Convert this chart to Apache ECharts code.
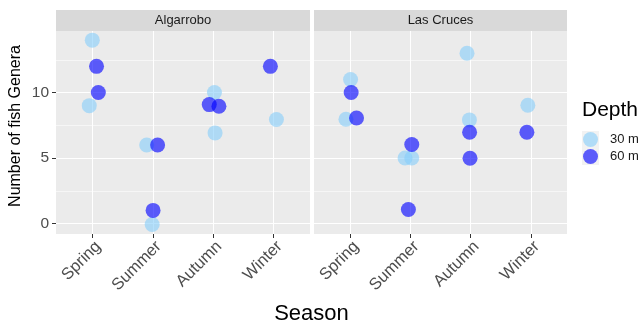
<!DOCTYPE html>
<html>
<head>
<meta charset="utf-8">
<script src="https://cdn.jsdelivr.net/npm/echarts@6/dist/echarts.min.js"></script>
<style>
  html, body { margin: 0; padding: 0; background: #ffffff; }
  #chart { width: 643px; height: 325px; }
</style>
</head>
<body>
<div id="chart"></div>
<script>
// Seasons on the x axis and the two sampling sites (one panel each)
const seasons = ['Spring', 'Summer', 'Autumn', 'Winter'];
const sites = ['Algarrobo', 'Las Cruces'];
const depths = ['30 m', '60 m'];
const yTicks = [0, 5, 10];
const yMinorTicks = [2.5, 7.5, 12.5];

// Each survey: season, number of fish genera, horizontal jitter (fraction of a category)
const algarrobo30Season = ['Spring', 'Spring', 'Summer', 'Summer', 'Autumn', 'Autumn', 'Winter'];
const algarrobo30Genera = [14, 9, 6, -0.08, 10, 6.92, 7.94];
const algarrobo30Jitter = [0, -0.05, -0.1, -0.01, 0.02, 0.03, 0.045];

const algarrobo60Season = ['Spring', 'Spring', 'Summer', 'Summer', 'Autumn', 'Autumn', 'Winter'];
const algarrobo60Genera = [12, 10, 6, 1, 9.08, 8.95, 12];
const algarrobo60Jitter = [0.07, 0.1, 0.08, 0.005, -0.066, 0.094, -0.055];

const lasCruces30Season = ['Spring', 'Spring', 'Summer', 'Summer', 'Autumn', 'Autumn', 'Winter'];
const lasCruces30Genera = [11, 7.96, 5, 5, 13, 7.91, 9.03];
const lasCruces30Jitter = [0.007, -0.07, -0.088, 0.023, -0.06, -0.02, -0.05];

const lasCruces60Season = ['Spring', 'Spring', 'Summer', 'Summer', 'Autumn', 'Autumn', 'Winter'];
const lasCruces60Genera = [10, 8.06, 6.03, 1.07, 6.97, 4.98, 6.97];
const lasCruces60Jitter = [0.017, 0.106, 0.023, -0.033, -0.017, -0.01, -0.066];

const FONT = '"Liberation Sans", Arial, Helvetica, sans-serif';
const LIGHT = 'rgba(135, 206, 250, 0.76)';
const DARK = 'rgba(0, 0, 255, 0.78)';
const PANEL_BG = '#EBEBEB';

function points(seasonArr, generaArr, jitterArr) {
  return seasonArr.map((s, i) => [seasons.indexOf(s) + jitterArr[i], generaArr[i]]);
}

const panelData = [
  { site: sites[0], d30: points(algarrobo30Season, algarrobo30Genera, algarrobo30Jitter),
    d60: points(algarrobo60Season, algarrobo60Genera, algarrobo60Jitter) },
  { site: sites[1], d30: points(lasCruces30Season, lasCruces30Genera, lasCruces30Jitter),
    d60: points(lasCruces60Season, lasCruces60Genera, lasCruces60Jitter) }
];

// Panel geometry (pixels)
const panels = [
  { left: 56, right: 310 },
  { left: 314, right: 567 }
];
const panelTop = 31, panelBottom = 234, stripTop = 10;
const W = 643, H = 325;

const catTicks = seasons.map((_, i) => i);

const grids = panels.map(p => ({
  left: p.left, width: p.right - p.left, top: panelTop, height: panelBottom - panelTop,
  show: true, backgroundColor: PANEL_BG, borderWidth: 0, containLabel: false
}));

const xAxes = panels.map((p, i) => ({
  type: 'value', gridIndex: i, min: -0.6, max: 3.6, position: 'bottom',
  axisLine: { show: false, onZero: false },
  axisTick: { show: true, customValues: catTicks, length: 4, lineStyle: { color: '#333333', width: 1 } },
  axisLabel: {
    customValues: catTicks, rotate: 45, margin: 4,
    align: 'right', verticalAlign: 'top',
    fontFamily: FONT, fontSize: 16.5, color: '#4D4D4D',
    formatter: v => seasons[Math.round(v)]
  },
  splitLine: { show: false }
}));

const yAxes = panels.map((p, i) => ({
  type: 'value', gridIndex: i, min: -0.8, max: 14.7, position: 'left',
  axisLine: { show: false, onZero: false },
  axisTick: { show: i === 0, customValues: yTicks, length: 4, lineStyle: { color: '#333333', width: 1 } },
  axisLabel: {
    show: i === 0, customValues: yTicks, margin: 7,
    fontFamily: FONT, fontSize: 15.5, color: '#4D4D4D'
  },
  splitLine: { show: false }
}));

// Panel grid lines, placed through each panel's own scales
const MAJOR = { color: '#FFFFFF', width: 1.1, type: 'solid' };
const MINOR = { color: '#FFFFFF', width: 0.55, type: 'solid' };
const gridLineData = []
  .concat(yMinorTicks.map(v => ({ yAxis: v, lineStyle: MINOR })))
  .concat(yTicks.map(v => ({ yAxis: v, lineStyle: MAJOR })))
  .concat(catTicks.map(v => ({ xAxis: v, lineStyle: MAJOR })));

const series = [];
panelData.forEach((pd, i) => {
  series.push({
    name: depths[0], type: 'scatter', xAxisIndex: i, yAxisIndex: i,
    data: pd.d30, symbol: 'circle', symbolSize: 15, z: 3,
    itemStyle: { color: LIGHT },
    emphasis: { disabled: true },
    markLine: {
      silent: true, symbol: 'none', z: 1, animation: false,
      label: { show: false },
      emphasis: { disabled: true },
      data: gridLineData
    }
  });
  series.push({
    name: depths[1], type: 'scatter', xAxisIndex: i, yAxisIndex: i,
    data: pd.d60, symbol: 'circle', symbolSize: 15, z: 4,
    itemStyle: { color: DARK },
    emphasis: { disabled: true }
  });
});

const graphics = [];
// Facet strips
panels.forEach((p, i) => {
  graphics.push({
    type: 'rect', z: 0,
    shape: { x: p.left, y: stripTop, width: p.right - p.left, height: panelTop - stripTop },
    style: { fill: '#D9D9D9' }
  });
  graphics.push({
    type: 'text', z: 1,
    x: (p.left + p.right) / 2, y: (stripTop + panelTop) / 2,
    style: { text: sites[i], font: '13px ' + FONT, fill: '#1A1A1A', align: 'center', verticalAlign: 'middle' }
  });
});
// Axis titles
graphics.push({
  type: 'text', x: 16, y: 126, rotation: Math.PI / 2,
  style: { text: 'Number of fish Genera', font: '16px ' + FONT, fill: '#000000', align: 'center', verticalAlign: 'middle' }
});
graphics.push({
  type: 'text', x: (panels[0].left + panels[1].right) / 2, y: 314,
  style: { text: 'Season', font: '22px ' + FONT, fill: '#000000', align: 'center', verticalAlign: 'middle' }
});
// Legend title and key backgrounds
graphics.push({
  type: 'text', x: 582, y: 110,
  style: { text: 'Depth', font: '21px ' + FONT, fill: '#000000', align: 'left', verticalAlign: 'middle' }
});
graphics.push({
  type: 'rect', z: -1,
  shape: { x: 582, y: 131, width: 17, height: 34 },
  style: { fill: '#F2F2F2' }
});

const chart = echarts.init(document.getElementById('chart'), null, { renderer: 'canvas', width: W, height: H });
chart.setOption({
  animation: false,
  backgroundColor: '#FFFFFF',
  textStyle: { fontFamily: FONT },
  grid: grids,
  xAxis: xAxes,
  yAxis: yAxes,
  legend: {
    data: depths, orient: 'vertical', left: 583, top: 132,
    itemWidth: 15, itemHeight: 15, itemGap: 2, icon: 'circle',
    padding: 0,
    textStyle: { fontFamily: FONT, fontSize: 13, color: '#1A1A1A', padding: [0, 0, 0, 7] },
    selectedMode: false
  },
  graphic: graphics,
  series: series
});
</script>
</body>
</html>
